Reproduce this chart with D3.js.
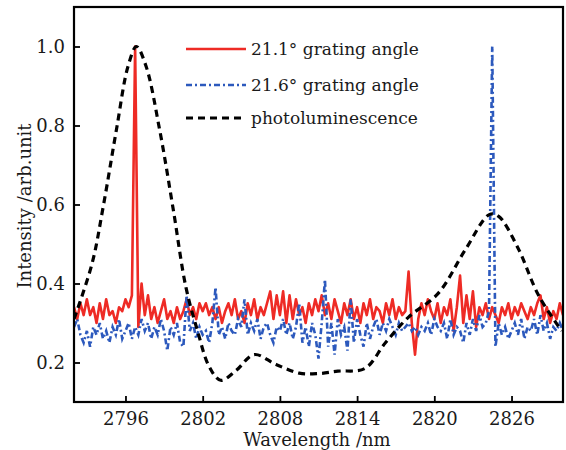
<!DOCTYPE html>
<html><head><meta charset="utf-8">
<script src="https://cdn.jsdelivr.net/npm/d3@7"></script>
<style>body{margin:0;background:#fff}svg{display:block}</style>
</head><body><svg id="c" width="566" height="450"></svg>
<script>
// Wavelength grid for the grating spectra (nm)
const wlStart = 2792, wlStep = 0.25;
const red211 = [
0.34,0.31,0.35,0.32, 0.36,0.32,0.34,0.30, 0.35,0.31,0.36,0.32, 0.33,0.30,0.34,0.33,
0.36,0.34,0.37,1.00, 0.29,0.40,0.32,0.37, 0.31,0.34,0.30,0.33, 0.36,0.31,0.33,0.30,
0.34,0.31,0.33,0.36, 0.32,0.34,0.31,0.35, 0.33,0.35,0.32,0.34, 0.31,0.34,0.30,0.33,
0.35,0.32,0.36,0.31, 0.33,0.30,0.35,0.32, 0.36,0.31,0.34,0.32, 0.35,0.38,0.31,0.37,
0.32,0.38,0.30,0.37, 0.31,0.36,0.32,0.34, 0.30,0.35,0.32,0.36, 0.33,0.37,0.32,0.35,
0.31,0.36,0.33,0.30, 0.35,0.32,0.36,0.31, 0.34,0.30,0.35,0.32, 0.36,0.31,0.34,0.33,
0.30,0.35,0.32,0.36, 0.31,0.34,0.32,0.33, 0.43,0.30,0.22,0.31, 0.35,0.32,0.36,0.33,
0.31,0.35,0.30,0.34, 0.32,0.36,0.28,0.34, 0.42,0.30,0.37,0.31, 0.38,0.29,0.34,0.32,
0.35,0.31,0.34,0.32, 0.30,0.34,0.32,0.35, 0.31,0.34,0.32,0.35, 0.33,0.31,0.34,0.32,
0.35,0.37,0.31,0.34, 0.30,0.33,0.31,0.35, 0.32];
const blue216 = [
0.29,0.31,0.27,0.25, 0.28,0.24,0.29,0.27, 0.30,0.26,0.28,0.25, 0.29,0.27,0.31,0.26,
0.28,0.30,0.26,0.29, 0.27,0.31,0.28,0.30, 0.26,0.29,0.27,0.31, 0.28,0.23,0.29,0.27,
0.30,0.25,0.24,0.37, 0.28,0.30,0.26,0.29, 0.27,0.28,0.25,0.30, 0.39,0.27,0.29,0.26,
0.30,0.28,0.27,0.31, 0.29,0.36,0.27,0.30, 0.28,0.31,0.26,0.29, 0.30,0.27,0.25,0.29,
0.28,0.31,0.27,0.30, 0.26,0.29,0.35,0.25, 0.29,0.24,0.30,0.27, 0.21,0.30,0.41,0.24,
0.30,0.22,0.31,0.27, 0.29,0.23,0.36,0.25, 0.31,0.27,0.24,0.30, 0.26,0.29,0.31,0.27,
0.30,0.28,0.31,0.29, 0.27,0.30,0.28,0.29, 0.30,0.28,0.29,0.27, 0.29,0.28,0.30,0.27,
0.31,0.29,0.28,0.30, 0.26,0.31,0.27,0.29, 0.28,0.25,0.30,0.27, 0.31,0.28,0.32,0.29,
0.30,0.33,1.00,0.24, 0.30,0.27,0.29,0.26, 0.28,0.30,0.27,0.31, 0.26,0.29,0.28,0.31,
0.27,0.32,0.28,0.30, 0.26,0.29,0.28,0.30, 0.28];
const plWavelength = [2792.0,2793.4,2794.3,2795.3,2796.2,2796.85,2797.6,2798.65,2799.7,2800.7,2801.6,2802.5,2803.4,2804.6,2806.0,2807.7,2809.5,2811.0,2812.5,2814.6,2816.2,2818.0,2820.3,2822.4,2824.3,2825.0,2826.5,2828.1,2829.9];
const plValue = [0.31,0.45,0.60,0.79,0.95,1.00,0.95,0.79,0.59,0.39,0.28,0.19,0.155,0.18,0.22,0.195,0.173,0.172,0.178,0.185,0.25,0.315,0.375,0.485,0.575,0.57,0.49,0.37,0.28];
const xTicks = [2796,2802,2808,2814,2820,2826];
const yTicks = [0.2,0.4,0.6,0.8,1.0];
const seriesNames = ["21.1° grating angle","21.6° grating angle","photoluminescence"];

const svg = d3.select("#c");
const L=74, R=563, T=7, B=402;
const x = d3.scaleLinear().domain([2792,2830]).range([L,R]);
const y = d3.scaleLinear().domain([0.1,1.1]).range([B,T]);
const font = "'DejaVu Serif', serif";
const txt = "#1a1a1a";

const grid = red211.map((_,i)=>wlStart+i*wlStep);
const line = d3.line().x(d=>x(d[0])).y(d=>y(d[1]));
svg.append("clipPath").attr("id","cp").append("rect").attr("x",L).attr("y",T).attr("width",R-L).attr("height",B-T);
const g = svg.append("g").attr("clip-path","url(#cp)");
g.append("path").datum(grid.map((w,i)=>[w,red211[i]])).attr("d",line)
 .attr("fill","none").attr("stroke","#ee2b25").attr("stroke-width",2.6).attr("stroke-linejoin","round");
g.append("path").datum(grid.map((w,i)=>[w,blue216[i]])).attr("d",line)
 .attr("fill","none").attr("stroke","#2c59bd").attr("stroke-width",2.6).attr("stroke-dasharray","6,3,2,3");
g.append("path").datum(plWavelength.map((w,i)=>[w,plValue[i]])).attr("d",line.curve(d3.curveCatmullRom))
 .attr("fill","none").attr("stroke","#000").attr("stroke-width",3.2).attr("stroke-dasharray","7,5");

// axes
const xa = svg.append("g").attr("transform",`translate(0,${B})`)
 .call(d3.axisBottom(x).tickValues(xTicks).tickFormat(d3.format("d")).tickSizeInner(-6).tickSizeOuter(0).tickPadding(10));
const ya = svg.append("g").attr("transform",`translate(${L},0)`)
 .call(d3.axisLeft(y).tickValues(yTicks).tickFormat(d3.format(".1f")).tickSizeInner(-6).tickSizeOuter(0).tickPadding(9));
[xa,ya].forEach(a=>{a.select(".domain").remove();a.selectAll("line").attr("stroke","#000").attr("stroke-width",1.8);
 a.selectAll("text").attr("font-family",font).attr("font-size",18).attr("fill",txt);});
svg.append("rect").attr("x",L).attr("y",T).attr("width",R-L).attr("height",B-T).attr("fill","none").attr("stroke","#000").attr("stroke-width",2.2);

svg.append("text").attr("x",317).attr("y",446).attr("text-anchor","middle").attr("font-family",font).attr("font-size",18).attr("fill",txt).text("Wavelength /nm");
svg.append("text").attr("transform","translate(31,206) rotate(-90)").attr("text-anchor","middle").attr("font-family",font).attr("font-size",18).attr("fill",txt).text("Intensity /arb.unit");

// legend
const lg = [{c:"#ee2b25",d:null,w:2.6},{c:"#2c59bd",d:"6,3,2,3",w:2.6},{c:"#000",d:"7,5",w:3.2}];
const ly = [49,85,118];
lg.forEach((s,i)=>{
 svg.append("line").attr("x1",186).attr("x2",246).attr("y1",ly[i]).attr("y2",ly[i]).attr("stroke",s.c).attr("stroke-width",s.w).attr("stroke-dasharray",s.d);
 svg.append("text").attr("x",251).attr("y",ly[i]).attr("dy","0.35em").attr("font-family",font).attr("font-size",17).attr("fill",txt).text(seriesNames[i]);
});
</script></body></html>
